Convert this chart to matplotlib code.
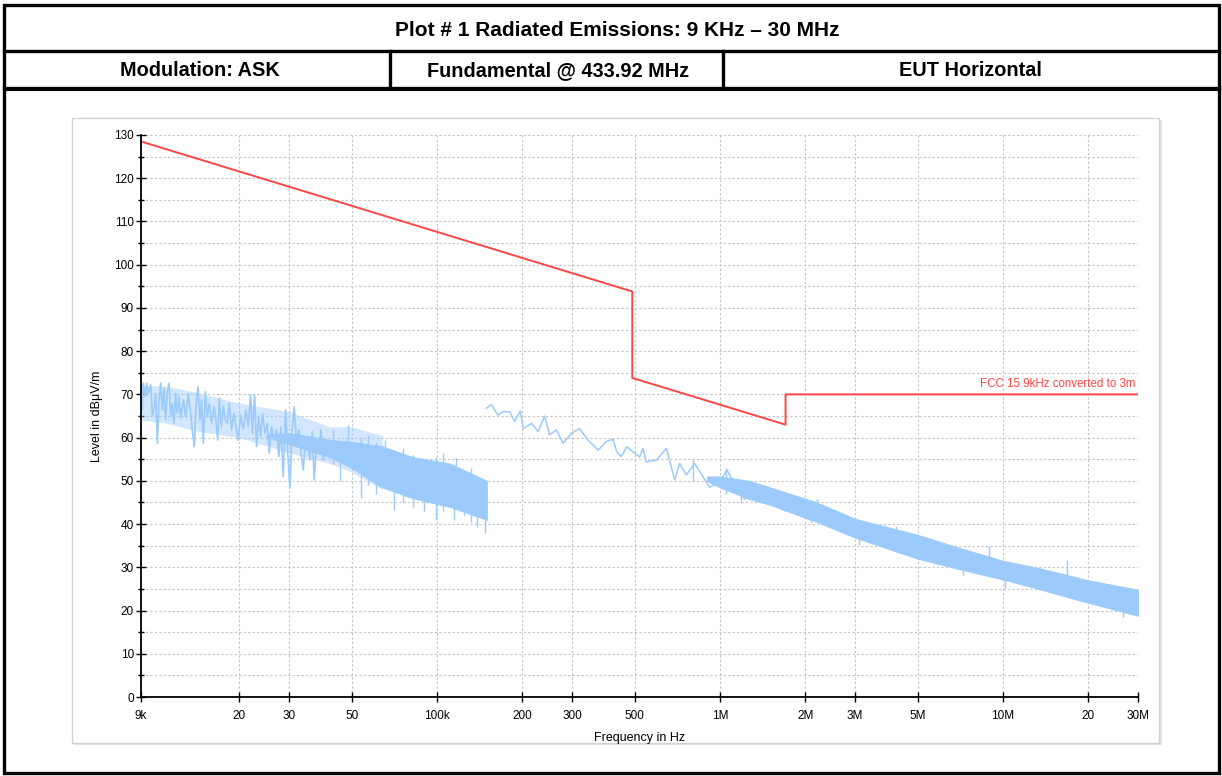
import matplotlib
matplotlib.use("Agg")
import matplotlib.pyplot as plt
from matplotlib.patches import Rectangle
from matplotlib.ticker import FixedLocator, MultipleLocator, NullLocator

plt.rcParams['font.family'] = ['Liberation Sans', 'DejaVu Sans']

# header texts
title = "Plot # 1 Radiated Emissions: 9 KHz \u2013 30 MHz"
cells = ["Modulation: ASK", "Fundamental @ 433.92 MHz", "EUT Horizontal"]

# axis ticks
x_ticks = [9e3, 20e3, 30e3, 50e3, 100e3, 200e3, 300e3, 500e3,
           1e6, 2e6, 3e6, 5e6, 10e6, 20e6, 30e6]
x_labels = ["9k", "20", "30", "50", "100k", "200", "300", "500",
            "1M", "2M", "3M", "5M", "10M", "20", "30M"]

# FCC 15.209 limit converted to 3 m
lim_f = [9e3, 490e3, 490e3, 1.705e6, 1.705e6, 30e6]
lim_db = [128.5, 93.8, 73.8, 63.0, 70.0, 70.0]

# sweep 1, 9 kHz - 42 kHz: trace read point by point
s1_f = [9.0e3, 9.08e3, 9.17e3, 9.30e3, 9.42e3, 9.55e3, 9.74e3, 9.87e3, 10.0e3, 10.14e3,
        10.28e3, 10.42e3, 10.56e3, 10.71e3, 10.85e3, 11.0e3, 11.15e3, 11.30e3, 11.46e3,
        11.61e3, 11.77e3, 11.93e3, 12.09e3, 12.26e3, 12.43e3, 12.70e3, 12.94e3, 13.22e3,
        13.48e3, 13.70e3, 13.89e3, 14.08e3, 14.31e3, 14.54e3, 14.74e3, 14.94e3, 15.19e3,
        15.44e3, 15.69e3, 15.99e3, 16.30e3, 16.56e3, 16.79e3, 17.02e3, 17.30e3, 17.58e3,
        17.87e3, 18.16e3, 18.46e3, 18.81e3, 19.17e3, 19.49e3, 19.86e3, 20.24e3, 20.69e3,
        21.14e3, 21.54e3, 21.95e3, 22.31e3, 22.68e3, 23.05e3, 23.43e3, 23.81e3, 24.20e3,
        24.67e3, 25.14e3, 25.55e3, 26.04e3, 26.54e3, 27.12e3, 27.64e3, 28.09e3, 28.63e3,
        29.18e3, 29.66e3, 30.23e3, 30.81e3, 31.31e3, 31.91e3, 32.52e3, 33.06e3, 33.69e3,
        34.34e3, 34.99e3, 35.57e3, 36.25e3, 36.84e3, 37.55e3, 38.27e3, 38.90e3, 39.64e3,
        40.40e3, 41.06e3, 41.85e3]
s1_db = [75.3, 66.4, 72.6, 69.5, 72.6, 70.2, 72.2, 65.2, 66.4, 70.2,
         58.7, 68.7, 72.6, 66.4, 71.4, 64.1, 70.6, 72.6, 64.8,
         67.9, 63.3, 70.2, 65.6, 69.5, 64.5, 68.7, 64.8, 70.2,
         65.6, 61.0, 57.9, 67.2, 71.8, 64.1, 68.7, 58.7, 70.6,
         64.8, 67.9, 63.3, 67.2, 64.1, 59.4, 69.1, 62.5, 67.2,
         64.1, 63.3, 67.9, 61.8, 65.6, 62.5, 59.4, 65.2, 62.1,
         66.4, 62.5, 69.9, 61.0, 69.9, 57.9, 64.8, 60.2, 65.6,
         61.0, 63.3, 56.4, 62.5, 59.4, 61.8, 55.6, 62.5, 51.0,
         66.4, 57.1, 48.3, 61.8, 67.2, 58.7, 61.8, 56.4, 52.5,
         60.2, 58.7, 54.8, 61.4, 50.2, 58.7, 56.4, 61.8, 54.8,
         59.4, 56.4, 58.7]
# sweep 1 spread of the trace (drawn lighter) and its dense core
s1w_f = [9.0e3, 10.8e3, 14.1e3, 20e3, 30e3, 41.85e3, 50e3, 64e3]
s1w_hi = [72.0, 72.0, 70.5, 68.0, 66.0, 62.5, 62.5, 60.5]
s1w_lo = [64.0, 63.5, 61.5, 60.0, 56.5, 54.0, 52.0, 48.0]
s1b_f = [25e3, 30e3, 41.85e3, 50e3, 64e3, 82e3, 111e3, 150e3]
s1b_hi = [60.8, 61.0, 59.5, 59.0, 58.0, 55.5, 54.0, 50.0]
s1b_lo = [60.2, 58.5, 55.5, 53.0, 48.5, 46.0, 44.0, 41.0]
# sweep 1 single spikes (freq, low, high)
s1_spk_f = [43e3, 45.5e3, 48.6e3, 53.8e3, 57e3, 61e3, 65.5e3, 70.3e3, 76e3, 82.5e3,
            90e3, 99.4e3, 105e3, 115e3, 117e3, 125e3, 132e3, 139e3, 148e3]
s1_spk_lo = [54.0, 50.0, 54.0, 46.0, 49.0, 47.0, 50.0, 43.3, 45.0, 44.0,
             43.0, 41.0, 43.0, 41.0, 46.0, 42.0, 40.5, 39.4, 37.9]
s1_spk_hi = [62.0, 59.0, 62.9, 60.0, 60.5, 59.0, 59.4, 57.0, 57.5, 56.0,
             55.0, 55.5, 56.5, 54.0, 55.2, 52.5, 53.0, 51.0, 50.0]

# sweep 2, 150 kHz - 1.4 MHz: trace read point by point
s2_f = [149.6e3, 155.8e3, 164e3, 171e3, 181e3, 188e3, 197e3, 202e3, 216e3, 228e3,
        240e3, 250e3, 264e3, 279e3, 299e3, 319e3, 342e3, 371e3, 397e3, 419e3,
        432e3, 448e3, 468e3, 493e3, 520e3, 534e3, 549e3, 596e3, 647e3, 692e3,
        720e3, 761e3, 814e3, 870e3, 919e3, 997e3, 1.06e6, 1.14e6, 1.22e6, 1.31e6,
        1.38e6]
s2_db = [66.8, 67.7, 65.2, 66.0, 66.0, 63.7, 66.2, 62.1, 63.3, 61.4,
         65.0, 60.6, 61.8, 58.7, 61.0, 62.1, 59.4, 57.1, 59.1, 59.6,
         56.7, 55.6, 57.9, 56.7, 55.5, 57.5, 54.4, 54.8, 57.5, 50.2,
         54.0, 51.4, 54.0, 51.0, 48.5, 49.8, 52.5, 48.6, 45.8, 46.7,
         47.5]
# sweep 2 band of the dense trace
s2b_f = [0.9e6, 1.0e6, 1.27e6, 1.5e6, 2.2e6, 3e6, 5e6, 7e6, 10e6, 13.4e6, 20e6, 30e6]
s2b_hi = [51.0, 51.0, 50.0, 48.5, 45.0, 41.2, 37.5, 34.5, 31.5, 29.8, 27.0, 24.8]
s2b_lo = [50.0, 48.5, 45.8, 44.5, 40.5, 36.9, 32.0, 29.6, 27.2, 25.0, 21.8, 18.8]
s2_spk_f = [0.8e6, 1.05e6, 1.19e6, 1.68e6, 2.1e6, 2.2e6, 3.1e6, 4.2e6, 5.3e6, 7.2e6,
            8.9e6, 10.2e6, 16.9e6, 26.5e6]
s2_spk_lo = [50.0, 47.0, 44.8, 43.0, 40.2, 41.0, 35.2, 33.5, 32.5, 28.2,
             30.0, 25.1, 27.0, 18.6]
s2_spk_hi = [55.0, 53.0, 49.0, 47.5, 44.0, 45.7, 39.0, 39.5, 36.0, 32.0,
             34.9, 29.0, 31.8, 23.0]

RED = "#ff4646"
BLUE = "#9ccbfb"

W, H = 1222, 776
fig = plt.figure(figsize=(W / 100, H / 100), dpi=100)

# page frame drawn in pixel coordinates
frame = fig.add_axes([0, 0, 1, 1])
frame.set_xlim(0, W)
frame.set_ylim(H, 0)
frame.axis("off")
frame.add_patch(Rectangle((4, 5), 1215, 768, fill=False, ec="black", lw=2.4))
frame.plot([4, 1219], [51, 51], color="black", lw=2.4)
frame.plot([4, 1219], [87.5, 87.5], color="black", lw=2.4)
frame.plot([4, 1219], [90, 90], color="black", lw=0.8)
frame.plot([390, 390], [51, 87.5], color="black", lw=2.4)
frame.plot([723, 723], [51, 87.5], color="black", lw=2.4)
hdr = dict(ha="center", va="center", fontweight="bold",
           family=["Liberation Sans Narrow", "Liberation Sans", "DejaVu Sans"])
frame.text(617, 30.5, title, fontsize=15, **hdr)
for cx, txt in zip([200, 558, 970], cells):
    frame.text(cx, 71, txt, fontsize=14.3, **hdr)

# light grey chart panel
frame.add_patch(Rectangle((74, 120), 1088, 625, fc="#e4e4e4", ec="none"))
frame.add_patch(Rectangle((72, 118), 1087, 625, fc="white", ec="#d2d2d2", lw=1))

ax = fig.add_axes([141 / W, 1 - 697 / H, 997 / W, 562 / H])
ax.set_xscale("log")
ax.set_xlim(9e3, 30e6)
ax.set_ylim(0, 130)

ax.fill_between(s1w_f, s1w_lo, s1w_hi, color=BLUE, alpha=0.45, lw=0)
ax.fill_between(s1b_f, s1b_lo, s1b_hi, color=BLUE, lw=0.8, ec=BLUE)
ax.plot(s1_f, s1_db, color=BLUE, lw=1.2)
ax.vlines(s1_spk_f, s1_spk_lo, s1_spk_hi, color=BLUE, lw=1.0)
ax.plot(s2_f, s2_db, color=BLUE, lw=1.1)
ax.fill_between(s2b_f, s2b_lo, s2b_hi, color=BLUE, lw=0.8, ec=BLUE)
ax.vlines(s2_spk_f, s2_spk_lo, s2_spk_hi, color=BLUE, lw=1.0)

ax.plot(lim_f, lim_db, color=RED, lw=1.4)
ax.text(29.5e6, 71.0, "FCC 15 9kHz converted to 3m", color=RED, fontsize=8.3,
        ha="right", va="bottom")

ax.xaxis.set_major_locator(FixedLocator(x_ticks))
ax.xaxis.set_minor_locator(NullLocator())
ax.set_xticklabels(x_labels)
ax.yaxis.set_major_locator(MultipleLocator(10))
ax.yaxis.set_minor_locator(MultipleLocator(5))
ax.tick_params(axis="both", which="major", direction="inout", length=7,
               width=1, labelsize=8.5, colors="black")
ax.tick_params(axis="y", which="minor", direction="inout", length=5, width=1)
ax.tick_params(axis="x", pad=6)
ax.tick_params(axis="y", pad=1.5)

ax.grid(True, which="major", color="#c4c4c4", ls=(0, (2, 2)), lw=0.8)
ax.grid(True, which="minor", axis="y", color="#c4c4c4", ls=(0, (2, 2)), lw=0.8)
for s in ["top", "right"]:
    ax.spines[s].set_visible(False)
for s in ["left", "bottom"]:
    ax.spines[s].set_linewidth(1.3)
ax.set_axisbelow(True)

ax.set_xlabel("Frequency in Hz", fontsize=9, labelpad=7)
ax.set_ylabel("Level in dB\u03bcV/m", fontsize=9, labelpad=8)

fig.savefig("out.png", dpi=100)
